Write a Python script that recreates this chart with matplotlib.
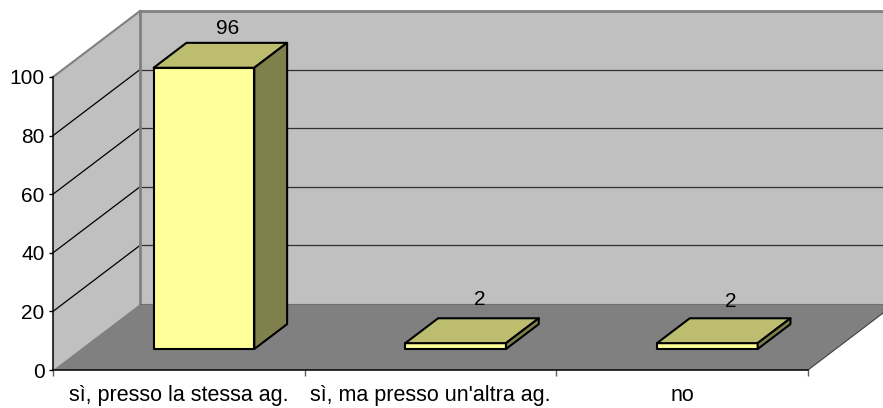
import matplotlib
matplotlib.use("Agg")
from matplotlib import pyplot as plt
from matplotlib.patches import Polygon

plt.rcParams['font.family'] = ['Liberation Sans', 'DejaVu Sans']

categories = ["sì, presso la stessa ag.", "sì, ma presso un'altra ag.", "no"]
values = [96, 2, 2]
y_ticks = [0, 20, 40, 60, 80, 100]

# depth of the fake 3d box, in data units (x categories, y values)
depth_x = 87 / 251.67
depth_y = 66 / 2.93
bar_z0 = 0.318
bar_z1 = 0.695
bar_w = 0.40
bar_c = 0.49

W, H = 883, 408
fig = plt.figure(figsize=(W / 100, H / 100), dpi=100)
ax = fig.add_axes([53 / W, 1 - 370 / H, 755 / W, 293 / H])
ax.set_xlim(0, 3)
ax.set_ylim(0, 100)
ax.patch.set_visible(False)


def pr(x, y, z):
	return (x + z * depth_x, y + z * depth_y)


def face(pts, color, ec="black", lw=1.5, zorder=2):
	ax.add_patch(Polygon([pr(*p) for p in pts], closed=True, fc=color, ec=ec, lw=lw,
		joinstyle="round", clip_on=False, zorder=zorder))


# walls and floor
face([(0, 0, 0), (0, 100, 0), (0, 100, 1), (0, 0, 1)], "#c0c0c0", ec="none", zorder=1)
face([(0, 0, 1), (0, 100, 1), (3, 100, 1), (3, 0, 1)], "#c0c0c0", ec="none", zorder=1)
face([(0, 0, 0), (0, 0, 1), (3, 0, 1), (3, 0, 0)], "#808080", ec="none", zorder=1)
ax.plot(*zip(pr(3, 0, 0), pr(3, 0, 1)), color="#404040", lw=0.8, clip_on=False, zorder=1.5)

# gridlines
for v in y_ticks[1:]:
	top = v == 100
	ax.plot(*zip(pr(0, v, 1), pr(3, v, 1)), color="#808080" if top else "#303030", lw=2 if top else 0.9,
		clip_on=False, zorder=1.5)
	ax.plot(*zip(pr(0, v, 0), pr(0, v, 1)), color="#808080" if top else "black", lw=1.5 if top else 0.9,
		clip_on=False, zorder=1.5)
ax.plot(*zip(pr(0, 0, 1), pr(0, 100, 1)), color="#808080", lw=2, clip_on=False, zorder=1.6)
ax.plot(*zip(pr(0, 0, 1), pr(3, 0, 1)), color="#707070", lw=0.8, clip_on=False, zorder=1.6)

# bars
label_off = [14, 19, 17]
for i, v in enumerate(values):
	x0 = i + bar_c - bar_w / 2
	x1 = x0 + bar_w
	face([(x0, 0, bar_z0), (x0, v, bar_z0), (x1, v, bar_z0), (x1, 0, bar_z0)], "#ffff99", zorder=3)
	face([(x0, v, bar_z0), (x0, v, bar_z1), (x1, v, bar_z1), (x1, v, bar_z0)], "#bdbd70", zorder=3)
	face([(x1, 0, bar_z0), (x1, v, bar_z0), (x1, v, bar_z1), (x1, 0, bar_z1)], "#80804d", zorder=3)
	ax.annotate(str(v), pr(i + bar_c, v, bar_z1), xytext=(-9 * 0.72, label_off[i] * 0.72),
		textcoords="offset points", ha="center", va="center", fontsize=15, color="black", zorder=4,
		annotation_clip=False)

# axes
for s in ["top", "right"]:
	ax.spines[s].set_visible(False)
ax.spines["left"].set_linewidth(1.1)
ax.spines["bottom"].set_linewidth(1.1)
ax.spines["left"].set_zorder(5)
ax.spines["bottom"].set_zorder(5)
ax.set_yticks(y_ticks)
ax.tick_params(axis="y", length=3, width=1, labelsize=15, pad=3)
ax.set_xticks([0, 1, 2, 3])
ax.set_xticklabels([])
ax.tick_params(axis="x", which="major", length=4, width=1, color="#606060")
ax.set_xticks([0.5, 1.5, 2.5], minor=True)
ax.set_xticklabels(categories, minor=True, fontsize=15.5)
ax.tick_params(axis="x", which="minor", length=0, pad=11)

fig.savefig("out.png", dpi=100)
